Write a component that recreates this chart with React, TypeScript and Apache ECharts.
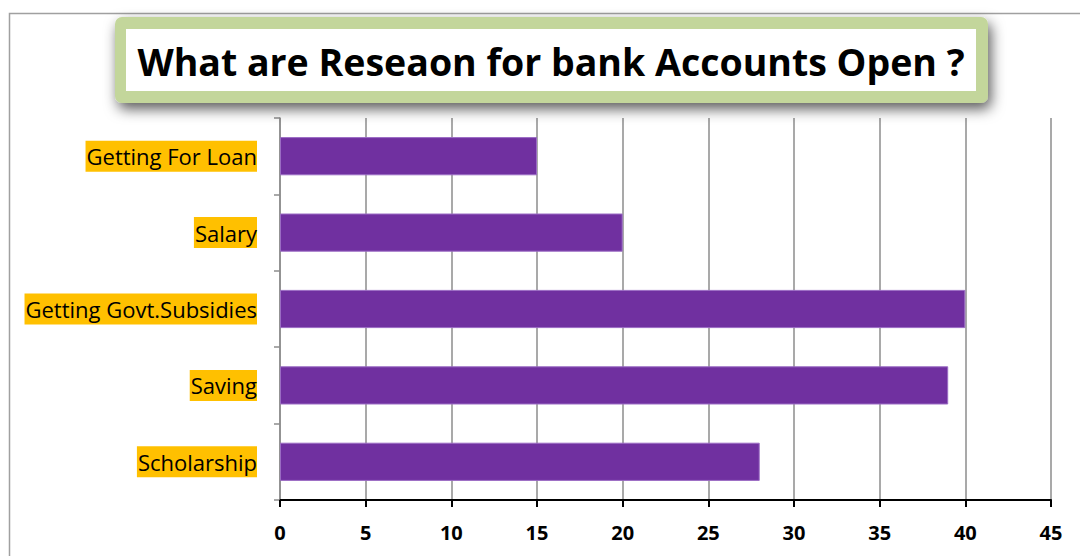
import React, { useEffect, useRef } from "react";
import * as echarts from "echarts";

const categories = ["Getting For Loan", "Salary", "Getting Govt.Subsidies", "Saving", "Scholarship"];
const values = [15, 20, 40, 39, 28];
const titleText = "What are Reseaon for bank Accounts Open ?";

export default function App() {
  const ref = useRef<HTMLDivElement>(null);
  useEffect(() => {
    if (!ref.current) return;
    const chart = echarts.init(ref.current, null, { renderer: "svg" });
    chart.setOption({
      animation: false,
      backgroundColor: "#ffffff",
      grid: { left: 280, right: 29, top: 118, bottom: 56, containLabel: false },
      xAxis: {
        type: "value",
        min: 0,
        max: 45,
        interval: 5,
        axisLine: { show: true, lineStyle: { color: "#000", width: 2 } },
        axisTick: { show: true, length: 7, lineStyle: { color: "#000", width: 2 } },
        axisLabel: { color: "#000", fontWeight: "bold", fontSize: 20, fontFamily: "Open Sans", margin: 22 },
        splitLine: { show: true, lineStyle: { color: "#8c8c8c", width: 1.5 } },
      },
      yAxis: {
        type: "category",
        data: categories,
        inverse: true,
        axisLine: { show: true, lineStyle: { color: "#8c8c8c", width: 1.5 } },
        axisTick: { show: true, length: 6, inside: false, lineStyle: { color: "#8c8c8c", width: 1.5 } },
        axisLabel: {
          color: "#000",
          fontSize: 22,
          fontFamily: "Open Sans",
          backgroundColor: "#FFC000",
          lineHeight: 26,
          padding: [3, 0, 2, 1],
          margin: 23,
        },
      },
      series: [
        {
          type: "bar",
          data: values,
          barWidth: "50%",
          itemStyle: { color: "#7030A0", borderColor: "#9b6cc4", borderWidth: 1 },
        },
      ],
      graphic: [
        {
          type: "rect",
          shape: { x: 9.5, y: 13.5, width: 1100, height: 600 },
          style: { fill: "none", stroke: "#a0a0a0", lineWidth: 1.5 },
          z: 0,
          silent: true,
        },
        {
          type: "rect",
          shape: { x: 115, y: 17, width: 873, height: 86, r: 7 },
          style: {
            fill: "#C3D69B",
            shadowBlur: 14,
            shadowOffsetX: 3,
            shadowOffsetY: 6,
            shadowColor: "rgba(0,0,0,0.65)",
          },
          z: 10,
        },
        {
          type: "rect",
          shape: { x: 126, y: 29, width: 850, height: 62 },
          style: { fill: "#ffffff" },
          z: 11,
        },
        {
          type: "text",
          x: 551,
          y: 61,
          style: {
            text: titleText,
            fill: "#000",
            font: "bold 37.5px 'Open Sans'",
            textAlign: "center",
            textVerticalAlign: "middle",
          },
          z: 12,
        },
      ],
    });
    return () => chart.dispose();
  }, []);
  return <div ref={ref} style={{ width: 1080, height: 556, position: "absolute", left: 0, top: 0 }} />;
}
